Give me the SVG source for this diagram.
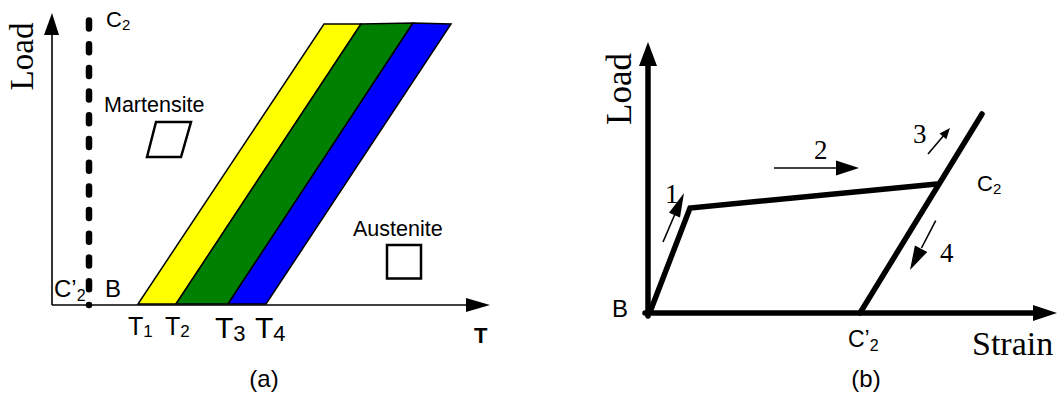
<svg xmlns="http://www.w3.org/2000/svg" width="1057" height="396" viewBox="0 0 1057 396">
<style>
.ar{font-family:"Liberation Sans",Arial,sans-serif;fill:#000}
.tr{font-family:"Liberation Serif","Times New Roman",serif;fill:#000}
.thin{stroke:#000;stroke-width:1.6;fill:none}
.thick{stroke:#000;stroke-width:5.5;fill:none;stroke-linecap:round;stroke-linejoin:miter}
.band{stroke:#000;stroke-width:1.5}
</style>
<rect width="1057" height="396" fill="#fff"/>
<g id="panel-a">
  <g id="bands">
    <polygon class="band" fill="#ffff00" points="138,304 324,24 361,24 176,304"/>
    <polygon class="band" fill="#008000" points="176,304 361,24 413,23 228,304"/>
    <polygon class="band" fill="#0000ff" points="228,304 413,23 451,24 266,304"/>
  </g>
  <g id="axes-a">
    <line class="thin" x1="52" y1="305" x2="52" y2="34"/>
    <polygon points="44,35 52,13 59,35" fill="#000"/>
    <line class="thin" x1="52" y1="305" x2="467" y2="305"/>
    <polygon points="466,298 490,305 466,312" fill="#000"/>
  </g>
  <line id="c2-dotted" x1="89" y1="20.5" x2="89" y2="305" stroke="#000" stroke-width="6.5" stroke-linecap="round" stroke-dasharray="8 15.7"/>
  <g id="martensite">
    <text class="ar" x="104" y="112" font-size="21.5">Martensite</text>
    <polygon points="156,122 191,122 181,157 147,157" fill="none" stroke="#000" stroke-width="2.5"/>
  </g>
  <g id="austenite">
    <text class="ar" x="353" y="236" font-size="21.5">Austenite</text>
    <rect x="387" y="245" width="34" height="33.5" fill="none" stroke="#000" stroke-width="2.5"/>
  </g>
  <text class="tr" font-size="33" text-anchor="middle" transform="translate(33,56.5) rotate(-90)">Load</text>
  <text class="ar" x="106" y="27" font-size="22">C<tspan font-size="15" dy="3">2</tspan></text>
  <text class="ar" x="54" y="297" font-size="24">C’<tspan font-size="16" dy="4">2</tspan></text>
  <text class="ar" x="105" y="297" font-size="24">B</text>
  <text class="ar" x="128" y="335" font-size="25">T<tspan font-size="17" dy="2">1</tspan></text>
  <text class="ar" x="165" y="335" font-size="25">T<tspan font-size="17" dy="2">2</tspan></text>
  <text class="ar" x="215" y="338" font-size="30">T<tspan font-size="22" dy="3">3</tspan></text>
  <text class="ar" x="255" y="338" font-size="30">T<tspan font-size="22" dy="3">4</tspan></text>
  <text class="ar" x="474" y="343" font-size="22" font-weight="bold">T</text>
  <text class="ar" x="264" y="387" font-size="24" text-anchor="middle">(a)</text>
</g>
<g id="panel-b">
  <g id="axes-b">
    <line class="thick" stroke-linecap="butt" x1="648" y1="316" x2="648" y2="64"/>
    <polygon points="639,66 648,42 657,66" fill="#000"/>
    <line class="thick" stroke-linecap="butt" x1="645" y1="313" x2="1034" y2="313"/>
    <polygon points="1033,305 1057,313 1033,321" fill="#000"/>
  </g>
  <g id="connectors">
    <polyline class="thick" points="650,312 690,208 937,184"/>
    <line class="thick" x1="860" y1="313" x2="982" y2="114"/>
    <line class="thin" stroke-width="1.8" x1="663" y1="242" x2="675" y2="214"/>
    <polygon points="684,193 680,217.5 669,212.7" fill="#000"/>
    <line class="thin" stroke-width="1.8" x1="774" y1="168" x2="837" y2="168"/>
    <polygon points="836,160.5 859,168 836,175.5" fill="#000"/>
    <line class="thin" stroke-width="1.8" x1="928" y1="154" x2="943.5" y2="135.8"/>
    <polygon points="950,128 946.3,139.3 939.5,133.5" fill="#000"/>
    <line class="thin" stroke-width="1.8" x1="935.7" y1="220.7" x2="921.5" y2="248"/>
    <polygon points="910,270 927.3,251.9 914.9,245.5" fill="#000"/>
  </g>
  <text class="tr" font-size="35" text-anchor="middle" transform="translate(631,89) rotate(-90)">Load</text>
  <text class="ar" x="612" y="317" font-size="24">B</text>
  <text class="tr" x="665" y="203" font-size="27">1</text>
  <text class="tr" x="814" y="159" font-size="27">2</text>
  <text class="tr" x="913" y="143" font-size="27">3</text>
  <text class="tr" x="940" y="262" font-size="27">4</text>
  <text class="ar" x="977" y="191" font-size="22">C<tspan font-size="15" dy="3">2</tspan></text>
  <text class="ar" x="848" y="347" font-size="23">C’<tspan font-size="16" dy="4">2</tspan></text>
  <text class="tr" x="972" y="355" font-size="34">Strain</text>
  <text class="ar" x="866" y="387" font-size="24" text-anchor="middle">(b)</text>
</g>
</svg>
